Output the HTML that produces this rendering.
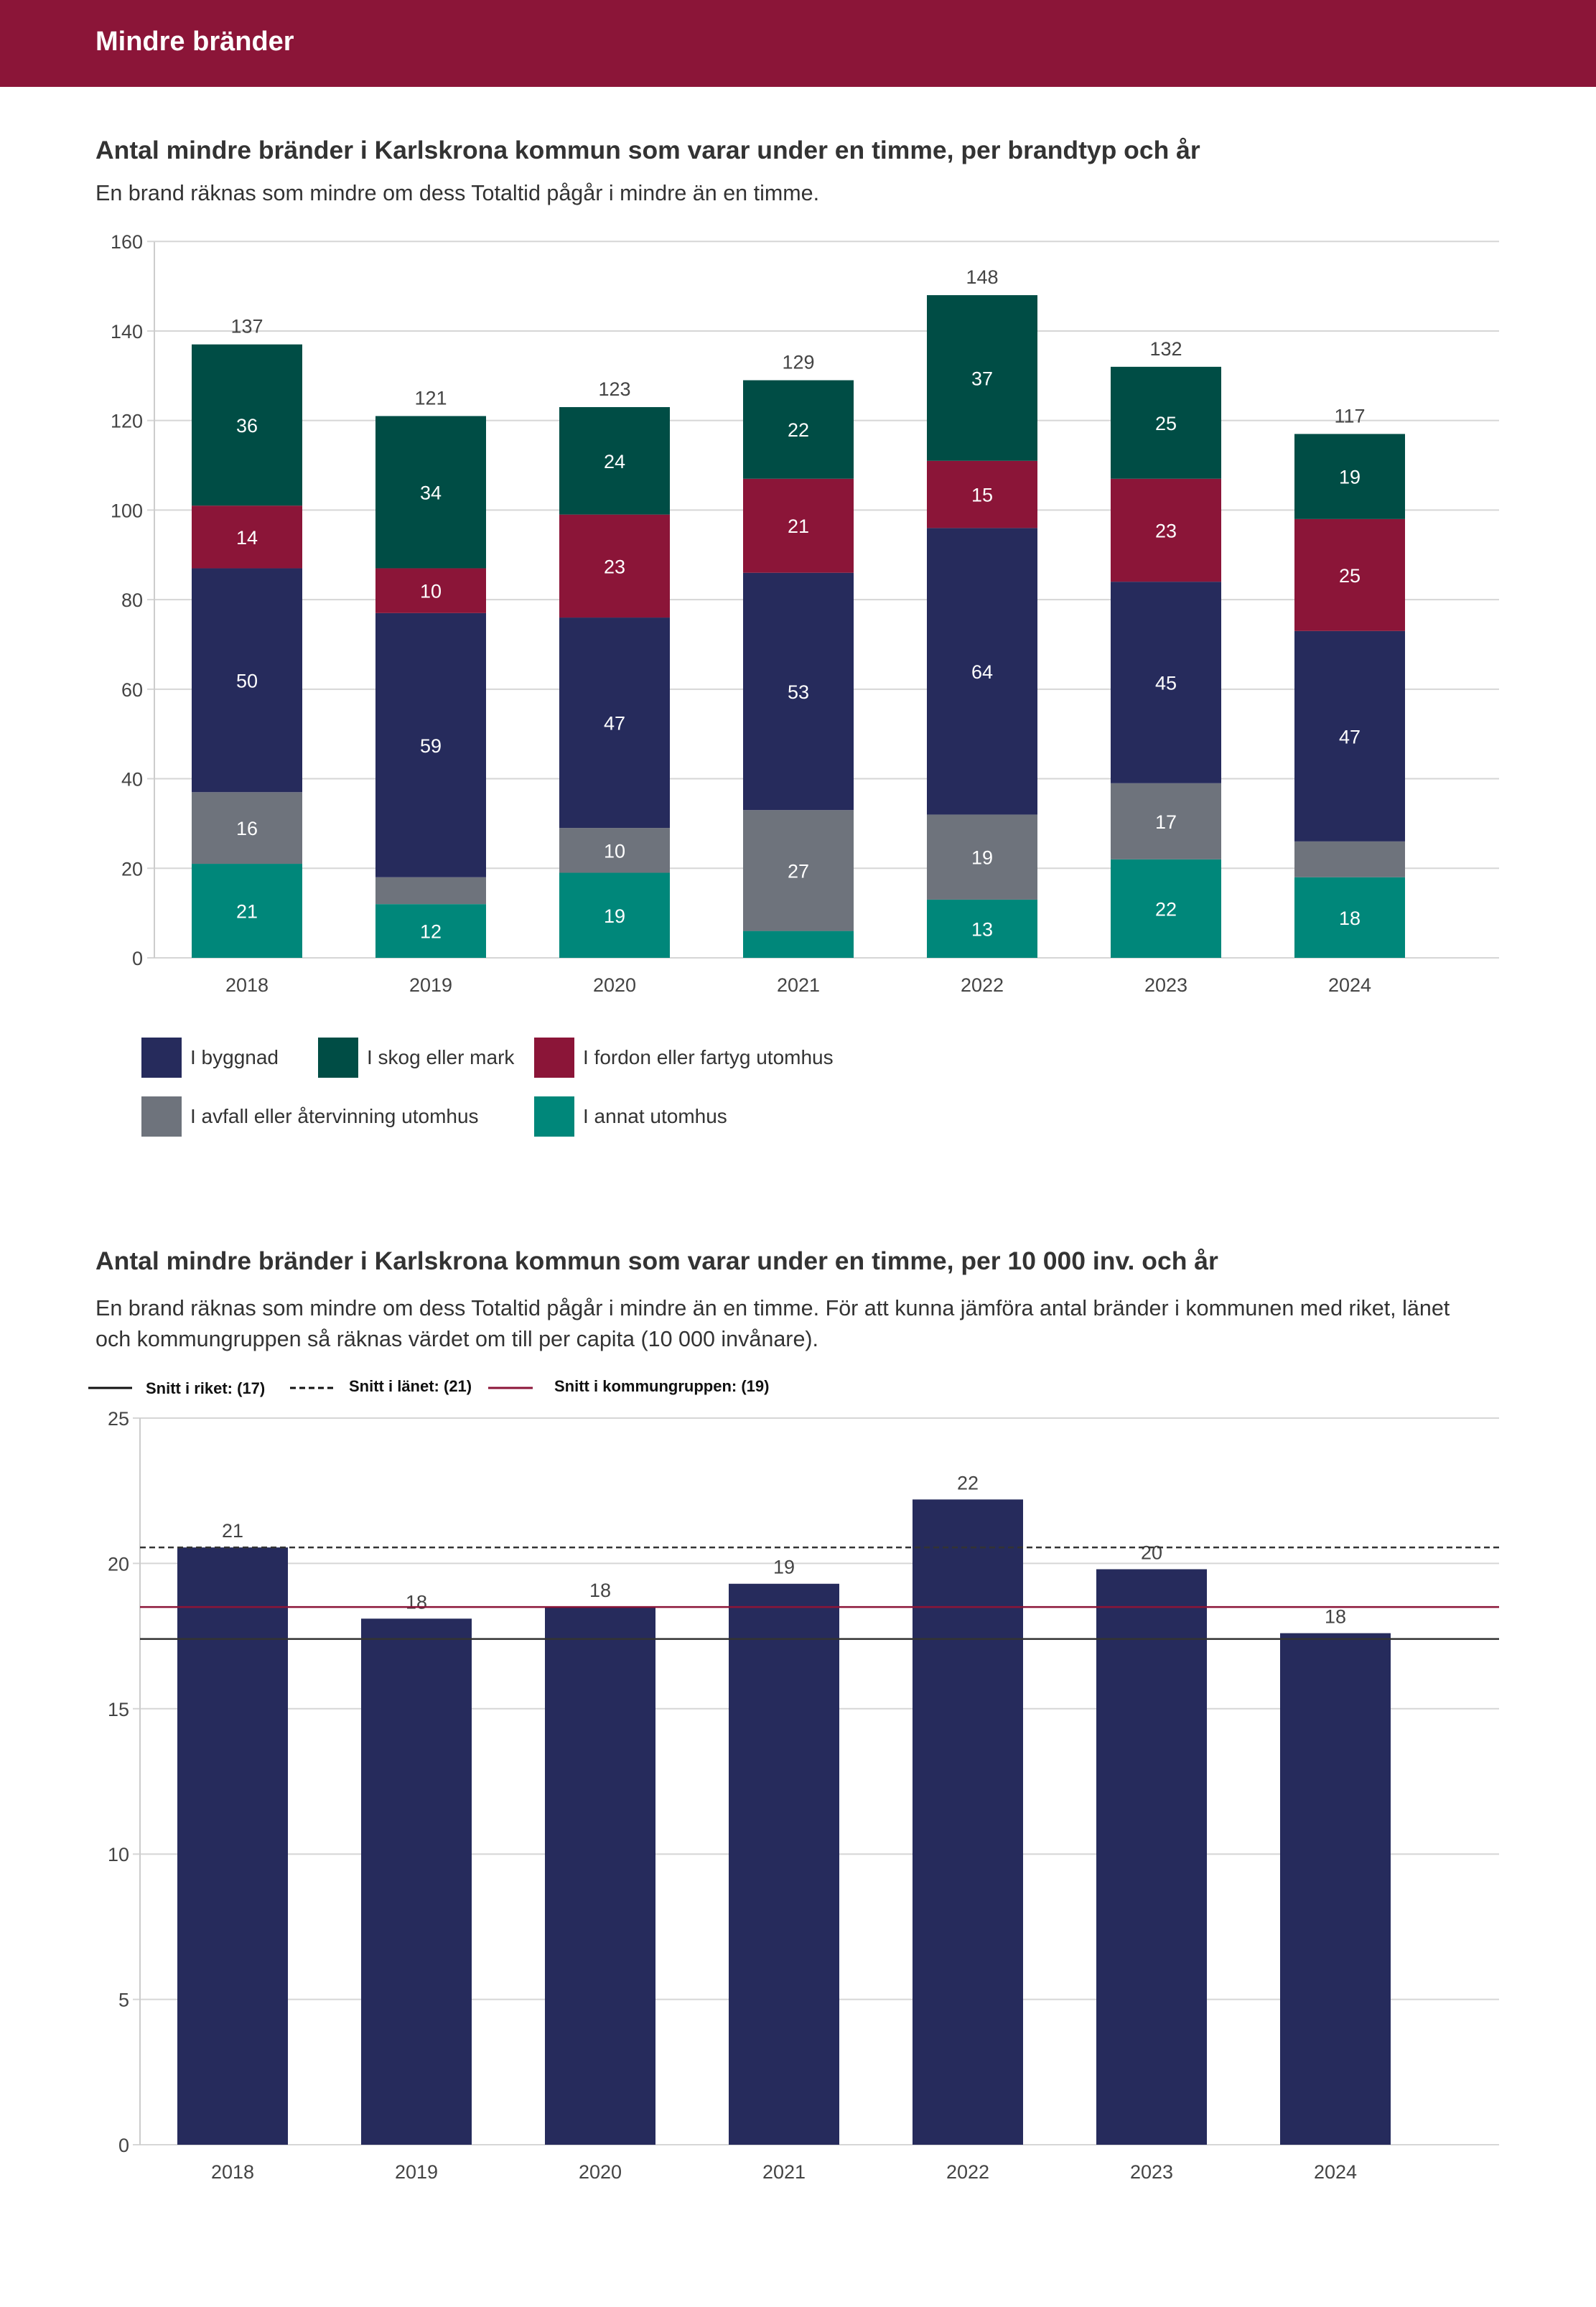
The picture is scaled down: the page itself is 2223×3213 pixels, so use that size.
<!DOCTYPE html>
<html><head><meta charset="utf-8"><style>
html,body{margin:0;padding:0;background:#fff;}
svg{display:block;font-family:"Liberation Sans",sans-serif;}
</style></head><body>
<svg id="svg" width="2223" height="3213" viewBox="0 0 2223 3213" xmlns="http://www.w3.org/2000/svg">
<rect x="0" y="0" width="2223" height="121" fill="#8b1538"/>
<text x="133" y="70" fill="#fff" font-size="38" font-weight="bold">Mindre bränder</text>
<text x="133" y="221" fill="#333" font-size="35.5" font-weight="bold">Antal mindre bränder i Karlskrona kommun som varar under en timme, per brandtyp och år</text>
<text x="133" y="279" fill="#333" font-size="30.5">En brand räknas som mindre om dess Totaltid pågår i mindre än en timme.</text>
<g id="c1"></g>
<g id="leg1"></g>
<text x="133" y="1768" fill="#333" font-size="35.5" font-weight="bold">Antal mindre bränder i Karlskrona kommun som varar under en timme, per 10 000 inv. och år</text>
<text x="133" y="1832" fill="#333" font-size="30.5">En brand räknas som mindre om dess Totaltid pågår i mindre än en timme. För att kunna jämföra antal bränder i kommunen med riket, länet</text>
<text x="133" y="1875" fill="#333" font-size="30.5">och kommungruppen så räknas värdet om till per capita (10 000 invånare).</text>
<g>
<line x1="123" y1="1933" x2="184" y2="1933" stroke="#111" stroke-width="3"/>
<text x="203" y="1941" font-size="22" font-weight="bold" fill="#111">Snitt i riket: (17)</text>
<line x1="404" y1="1933" x2="465" y2="1933" stroke="#111" stroke-width="3" stroke-dasharray="8,5"/>
<text x="486" y="1938" font-size="22" font-weight="bold" fill="#111">Snitt i länet: (21)</text>
<line x1="680" y1="1933" x2="742" y2="1933" stroke="#8b1538" stroke-width="3"/>
<text x="772" y="1938" font-size="22" font-weight="bold" fill="#111">Snitt i kommungruppen: (19)</text>
</g>
<g id="c2"></g>
</svg>
<script>
const years = ["2018","2019","2020","2021","2022","2023","2024"];
const annat = [21,12,19,6,13,22,18];
const avfall = [16,6,10,27,19,17,8];
const byggnad = [50,59,47,53,64,45,47];
const fordon = [14,10,23,21,15,23,25];
const skog = [36,34,24,22,37,25,19];
const ticks1 = [0,20,40,60,80,100,120,140,160];
const perCapita = [20.55,18.1,18.5,19.3,22.2,19.8,17.6];
const perCapitaLabels = ["21","18","18","19","22","20","18"];
const ticks2 = [0,5,10,15,20,25];
const snittRiket = 17.4;
const snittLanet = 20.55;
const snittGrupp = 18.5;

const NS = "http://www.w3.org/2000/svg";
function mk(parent, tag, attrs, text){
  const e = document.createElementNS(NS, tag);
  for (const k in attrs) e.setAttribute(k, attrs[k]);
  if (text !== undefined) e.textContent = text;
  parent.appendChild(e);
  return e;
}
// Chart 1
const c1 = document.getElementById('c1');
const y1 = v => 1334 - v * 6.236;
const x1 = i => 216 + 256 * i + 128;
const bw = 154;
ticks1.forEach(t => {
  const g = mk(c1, 'line', {x1: 205, x2: 2088, y1: y1(t), y2: y1(t), stroke: '#d6d6d6', 'stroke-width': 2});
  
  
  const l = mk(c1, 'text', {x: 199, y: y1(t) + 10, 'text-anchor': 'end', 'font-size': 27, fill: '#444'}, t);
  
  
});
const ax1 = mk(c1, 'line', {x1: 215, x2: 215, y1: 337, y2: 1334, stroke: '#ccc', 'stroke-width': 2});


const series = [
  {vals: annat, color: '#00877a', name: 'annat'},
  {vals: avfall, color: '#6e737c', name: 'avfall'},
  {vals: byggnad, color: '#262b5c', name: 'byggnad'},
  {vals: fordon, color: '#8b1538', name: 'fordon'},
  {vals: skog, color: '#004d45', name: 'skog'}
];
years.forEach((yr, i) => {
  let cum = 0;
  series.forEach(s => {
    const v = s.vals[i];
    const r = mk(c1, 'rect', {x: x1(i) - bw/2, y: y1(cum + v), width: bw, height: y1(cum) - y1(cum + v), fill: s.color});
    
    
    if (v >= 10) {
      const t = mk(c1, 'text', {x: x1(i), y: y1(cum + v/2) + 10, 'text-anchor': 'middle', 'font-size': 27, fill: '#fff'}, v);
      
      
    }
    cum += v;
  });
  const tot = mk(c1, 'text', {x: x1(i), y: y1(cum) - 16, 'text-anchor': 'middle', 'font-size': 27, fill: '#444'}, cum);
  
  
  const xl = mk(c1, 'text', {x: x1(i), y: 1381, 'text-anchor': 'middle', 'font-size': 27, fill: '#444'}, yr);
  
  
});
// Legend 1
const leg1 = document.getElementById('leg1');
const legItems = [
  ['I byggnad', '#262b5c', 197, 1445],
  ['I skog eller mark', '#004d45', 443, 1445],
  ['I fordon eller fartyg utomhus', '#8b1538', 744, 1445],
  ['I avfall eller återvinning utomhus', '#6e737c', 197, 1527],
  ['I annat utomhus', '#00877a', 744, 1527]
];
legItems.forEach(it => {
  const r = mk(leg1, 'rect', {x: it[2], y: it[3], width: 56, height: 56, fill: it[1]});
  
  
  const t = mk(leg1, 'text', {x: it[2] + 68, y: it[3] + 37, 'font-size': 28, fill: '#333'}, it[0]);
  
  
});
// Chart 2
const c2 = document.getElementById('c2');
const y2 = v => 2987 - v * 40.48;
const x2 = i => 196 + 256 * i + 128;
ticks2.forEach(t => {
  const g = mk(c2, 'line', {x1: 185, x2: 2088, y1: y2(t), y2: y2(t), stroke: '#d6d6d6', 'stroke-width': 2});
  
  
  const l = mk(c2, 'text', {x: 180, y: y2(t) + 10, 'text-anchor': 'end', 'font-size': 27, fill: '#444'}, t);
  
  
});
const ax2 = mk(c2, 'line', {x1: 195, x2: 195, y1: y2(25), y2: 2987, stroke: '#ccc', 'stroke-width': 2});


years.forEach((yr, i) => {
  const v = perCapita[i];
  const r = mk(c2, 'rect', {x: x2(i) - bw/2, y: y2(v), width: bw, height: 2987 - y2(v), fill: '#262b5c'});
  
  
  const t = mk(c2, 'text', {x: x2(i), y: y2(v) - 14, 'text-anchor': 'middle', 'font-size': 27, fill: '#444'}, perCapitaLabels[i]);
  
  
  const xl = mk(c2, 'text', {x: x2(i), y: 3034, 'text-anchor': 'middle', 'font-size': 27, fill: '#444'}, yr);
  
  
});
const lr = mk(c2, 'line', {x1: 195, x2: 2088, y1: y2(snittRiket), y2: y2(snittRiket), stroke: '#333', 'stroke-width': 2.5});


const ll = mk(c2, 'line', {x1: 195, x2: 2088, y1: y2(snittLanet), y2: y2(snittLanet), stroke: '#333', 'stroke-width': 2.5, 'stroke-dasharray': '8,5'});


const lg = mk(c2, 'line', {x1: 195, x2: 2088, y1: y2(snittGrupp), y2: y2(snittGrupp), stroke: '#8b1538', 'stroke-width': 2.5});


</script>
</body></html>
